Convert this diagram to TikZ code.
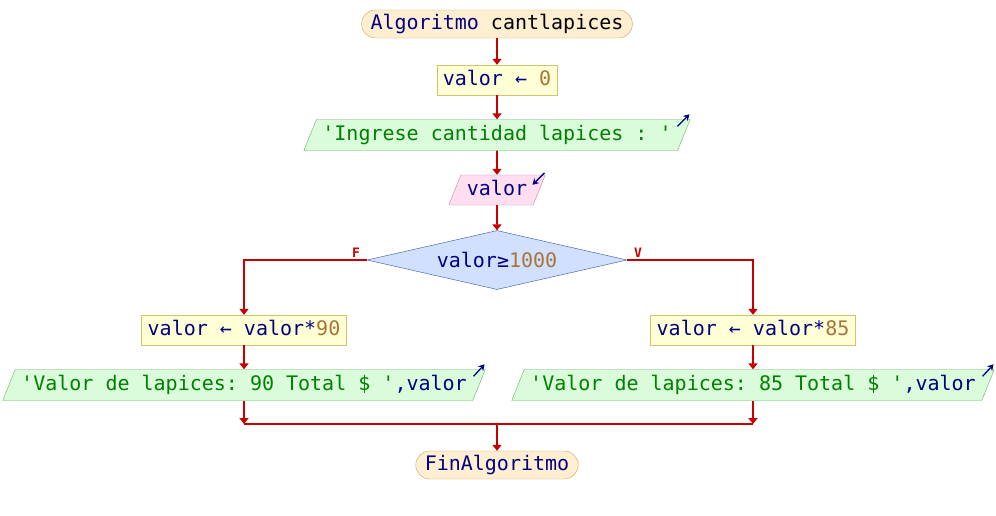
\documentclass[tikz,border=0pt]{standalone}
\usepackage{fontspec}
\setmonofont{DejaVu Sans Mono}
\usetikzlibrary{positioning,shapes.geometric,arrows.meta}

\definecolor{flowred}{RGB}{200,0,0}
\definecolor{idblue}{RGB}{0,0,128}
\definecolor{strgreen}{RGB}{0,128,0}
\definecolor{numbrown}{RGB}{168,116,56}
\definecolor{termfill}{RGB}{255,238,208}
\definecolor{termborder}{RGB}{200,160,100}
\definecolor{asgfill}{RGB}{255,255,214}
\definecolor{asgborder}{RGB}{210,196,110}
\definecolor{outfill}{RGB}{218,252,218}
\definecolor{outborder}{RGB}{100,176,100}
\definecolor{infill}{RGB}{255,222,240}
\definecolor{inborder}{RGB}{200,130,170}
\definecolor{condfill}{RGB}{210,224,255}
\definecolor{condborder}{RGB}{50,80,160}

\newcommand{\flowfont}{\fontsize{20}{24}\selectfont\ttfamily}
\newcommand{\vid}[1]{\textcolor{idblue}{#1}}
\newcommand{\vstr}[1]{\textcolor{strgreen}{#1}}
\newcommand{\vnum}[1]{\textcolor{numbrown}{#1}}

\begin{document}
\begin{tikzpicture}[x=1pt, y=1pt, node distance=55pt]
    % Define styles
    \tikzstyle{terminal} = [rectangle, rounded corners=14pt, text height=15pt, text depth=5pt, inner xsep=9pt, inner ysep=4pt, font=\flowfont, draw=termborder, fill=termfill]
    \tikzstyle{assign} = [rectangle, text height=15pt, text depth=5pt, inner xsep=6pt, inner ysep=5pt, font=\flowfont, draw=asgborder, fill=asgfill]
    \tikzstyle{output} = [trapezium, trapezium left angle=68, trapezium right angle=112, text height=15pt, text depth=5pt, inner xsep=6pt, inner ysep=5.5pt, font=\flowfont, draw=outborder, fill=outfill]
    \tikzstyle{input} = [trapezium, trapezium left angle=68, trapezium right angle=112, text height=15pt, text depth=5pt, inner xsep=6pt, inner ysep=5pt, font=\flowfont, draw=inborder, fill=infill]
    \tikzstyle{decision} = [diamond, aspect=4.4, minimum width=260pt, minimum height=59pt, inner sep=0pt, font=\flowfont, draw=condborder, fill=condfill]
    \tikzstyle{branch} = [text=flowred, font=\fontsize{13}{14}\selectfont\ttfamily\bfseries, inner sep=2pt]
    \tikzstyle{arrow} = [line width=1.6pt, draw=flowred, ->, >={Triangle[length=6pt,width=9pt]}]
    \tikzstyle{line} = [line width=1.6pt, draw=flowred]
    \tikzstyle{io} = [line width=1.3pt, draw=idblue, ->, >={Stealth[length=6pt,width=7pt]}]

    \useasboundingbox (0,0) rectangle (996,-515);

    % Nodes
    \node (start) [terminal] at (497,-24) {\vid{Algoritmo} cantlapices};
    \node (init) [assign, below of=start, yshift=-1pt] {\vid{valor ← }\vnum{0}};
    \node (msg) [output, below of=init] {\vstr{'Ingrese cantidad lapices : '}};
    \node (read) [input, below of=msg] {\vid{valor}};
    \node (cond) [decision, below of=read, yshift=-15pt] {\vid{valor≥}\vnum{1000}};

    \node (setL) [assign, below of=cond, xshift=-253pt, yshift=-15pt] {\vid{valor ← valor*}\vnum{90}};
    \node (outL) [output, below of=setL] {\vstr{'Valor de lapices: 90 Total \$ '}\vid{,valor}};

    \node (setR) [assign, below of=cond, xshift=256pt, yshift=-15pt] {\vid{valor ← valor*}\vnum{85}};
    \node (outR) [output, below of=setR] {\vstr{'Valor de lapices: 85 Total \$ '}\vid{,valor}};

    \node (end) [terminal, below of=cond, yshift=-150pt] {\vid{FinAlgoritmo}};

    \coordinate [below of=outL, yshift=16pt] (joinL);
    \coordinate [below of=outR, yshift=16pt] (joinR);
    \coordinate (joinM) at (joinL -| end);

    % Arrows
    \draw [arrow] (start) -- (init);
    \draw [arrow] (init) -- (msg);
    \draw [arrow] (msg) -- (read);
    \draw [arrow] (read) -- (cond);

    \draw [arrow] (cond.west) node [branch, above left, xshift=-4pt] {F} -| (setL);
    \draw [arrow] (cond.east) node [branch, above right, xshift=4pt] {V} -| (setR);

    \draw [arrow] (setL) -- (outL);
    \draw [arrow] (setR) -- (outR);
    \draw [arrow] (outL) -- (joinL);
    \draw [arrow] (outR) -- (joinR);
    \draw [line] (joinL) -- (joinR);
    \draw [arrow] (joinM) -- (end);

    % In/out marks
    \draw [io] ([shift={(-13pt,-7pt)}]msg.top right corner) -- ([shift={(-1pt,5pt)}]msg.top right corner);
    \draw [io] ([shift={(-1pt,2pt)}]read.top right corner) -- ([shift={(-13pt,-10pt)}]read.top right corner);
    \draw [io] ([shift={(-12pt,-7pt)}]outL.top right corner) -- ([shift={(-1pt,5pt)}]outL.top right corner);
    \draw [io] ([shift={(-12pt,-7pt)}]outR.top right corner) -- ([shift={(-1pt,5pt)}]outR.top right corner);
\end{tikzpicture}
\end{document}
